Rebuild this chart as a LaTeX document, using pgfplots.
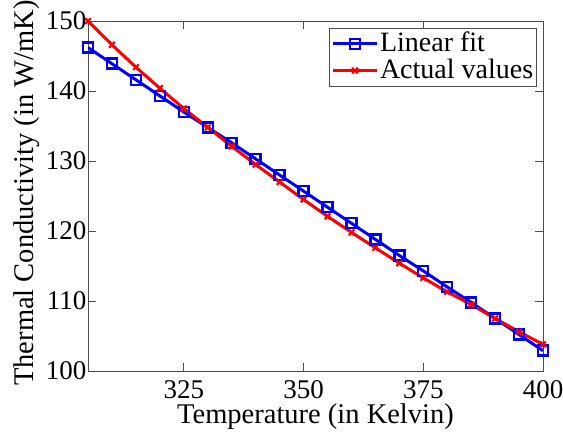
\documentclass[border=0pt]{standalone}
\usepackage{pgfplots}
\pgfplotsset{compat=1.18}
\usepackage{fontspec}
\setmainfont{Liberation Serif}
\begin{document}
\fontsize{28}{33}\selectfont
\begin{tikzpicture}
\begin{axis}[
  name=ax,
  scale only axis,
  width=455pt, height=350pt,
  xmin=305, xmax=400, ymin=100, ymax=150,
  xtick={325,350,375,400},
  ytick={100,110,120,130,140,150},
  tick align=inside,
  major tick length=8pt,
  axis line style={draw=black!70, line width=0.8pt},
  every tick/.style={draw=black!70, line width=0.8pt},
  /pgf/number format/assume math mode=true,
  /pgf/number format/1000 sep={},
  tick label style={font=\fontsize{27}{32}\selectfont},
  yticklabel style={xshift=8pt},
  xticklabel style={yshift=-8pt, inner sep=1pt},
  label style={font=\fontsize{28.5}{33}\selectfont},
  xlabel={Temperature (in Kelvin)},
  ylabel={Thermal Conductivity (in W/mK)},
  xlabel style={yshift=-3pt, inner sep=1pt},
  ylabel style={yshift=-13pt, xshift=3pt},
  legend style={at={(0.987,0.98)}, anchor=north east, font=\fontsize{28}{32}\selectfont, draw=black!70, line width=0.8pt, row sep=0pt, inner sep=2pt, nodes={inner sep=1.5pt}},
  legend cell align=left,
  legend image code/.code={\draw[#1] (0cm,0cm) -- (1.55cm,0cm) plot coordinates {(0.775cm,0cm)};},
]
\addplot[blue, line width=3pt, mark=square, mark size=5pt, mark options={line width=2.4pt}] coordinates {
(305,146.2) (310,143.9) (315,141.6) (320,139.3) (325,137.0)
(330,134.8) (335,132.6) (340,130.3) (345,128.0) (350,125.7)
(355,123.4) (360,121.1) (365,118.8) (370,116.5) (375,114.3)
(380,112.0) (385,109.8) (390,107.5) (395,105.2) (400,102.9)
};
\addlegendentry{Linear fit}
\addplot[red, line width=3pt, mark=x, mark size=4pt, mark options={line width=2.2pt}] coordinates {
(305,150.0) (310,146.6) (315,143.4) (320,140.4) (325,137.5)
(330,134.8) (335,132.1) (340,129.5) (345,127.0) (350,124.5)
(355,122.1) (360,119.8) (365,117.6) (370,115.4) (375,113.3)
(380,111.3) (385,109.5) (390,107.5) (395,105.6) (400,103.8)
};
\addlegendentry{Actual values}
\end{axis}
\pgfresetboundingbox
\path ([shift={(-88pt,-61pt)}]ax.south west) rectangle ([shift={(20pt,21pt)}]ax.north east);
\end{tikzpicture}
\end{document}
